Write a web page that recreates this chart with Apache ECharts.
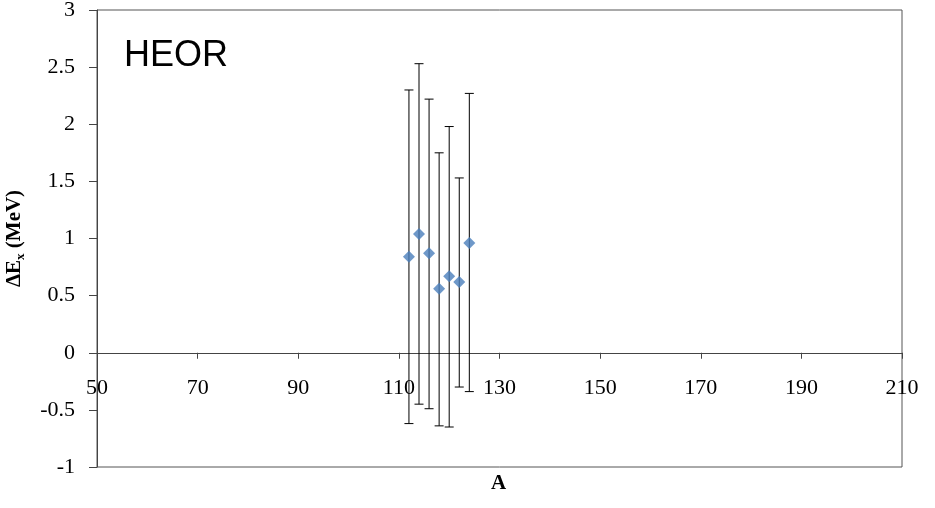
<!DOCTYPE html>
<html>
<head>
<meta charset="utf-8">
<script src="https://cdn.jsdelivr.net/npm/echarts@6/dist/echarts.min.js"></script>
<style>html,body{margin:0;padding:0;background:#fff}#c{width:935px;height:508px}</style>
</head>
<body>
<div id="c"></div>
<script>
const massA   = [112, 114, 116, 118, 120, 122, 124];
const deltaE  = [0.84, 1.04, 0.87, 0.56, 0.67, 0.62, 0.96];
const errHigh = [2.30, 2.53, 2.22, 1.75, 1.98, 1.53, 2.27];
const errLow  = [-0.62, -0.45, -0.49, -0.64, -0.65, -0.30, -0.34];

const chart = echarts.init(document.getElementById('c'), null, {renderer: 'canvas'});
const serif = '"Liberation Serif", "Times New Roman", serif';

const points = massA.map((a, i) => [a, deltaE[i]]);
const bars = massA.map((a, i) => [a, errLow[i], errHigh[i]]);

const gridTop = 10, gridBottom = 41, H = 508;
const yMin = -1, yMax = 3;
const plotH = H - gridTop - gridBottom;
const zeroOffset = -plotH * (0 - yMin) / (yMax - yMin);

chart.setOption({
  animation: false,
  backgroundColor: '#fff',
  grid: {left: 97, top: gridTop, right: 33, bottom: gridBottom, outerBoundsMode: 'none', containLabel: false,
         show: true, borderColor: '#555', borderWidth: 1, backgroundColor: 'transparent'},
  xAxis: {
    type: 'value', min: 50, max: 210, interval: 20,
    position: 'bottom', offset: zeroOffset,
    axisLine: {show: true, onZero: false, lineStyle: {color: '#444', width: 1}},
    axisTick: {show: true, inside: false, length: 6, lineStyle: {color: '#444'}},
    axisLabel: {margin: 24, fontFamily: serif, fontSize: 22, color: '#000'},
    splitLine: {show: false}
  },
  yAxis: {
    type: 'value', min: yMin, max: yMax, interval: 0.5,
    axisLine: {show: true, onZero: false, lineStyle: {color: '#444', width: 1}},
    axisTick: {show: true, inside: false, length: 8, lineStyle: {color: '#444'}},
    axisLabel: {margin: 22, fontFamily: serif, fontSize: 22, color: '#000'},
    splitLine: {show: false},
    name: '{b|ΔE}{s|x}{b| (MeV)}',
    nameLocation: 'middle', nameRotate: 90, nameGap: 70,
    nameTextStyle: {
      rich: {
        b: {fontFamily: serif, fontSize: 21, fontWeight: 'bold', color: '#000', lineHeight: 24},
        s: {fontFamily: serif, fontSize: 13, fontWeight: 'bold', color: '#000', lineHeight: 24, verticalAlign: 'bottom', padding: [8, 0, 0, 0]}
      }
    }
  },
  graphic: [
    {type: 'text', left: 124, top: 38, style: {text: 'HEOR', font: '36px "Liberation Sans", Arial, sans-serif', fill: '#000'}},
    {type: 'text', left: 491, top: 473, style: {text: 'A', font: 'bold 21px "Liberation Serif", serif', fill: '#000'}}
  ],
  series: [
    {
      type: 'custom',
      data: bars,
      z: 2,
      renderItem: function (params, api) {
        const x = api.value(0);
        const lo = api.coord([x, api.value(1)]);
        const hi = api.coord([x, api.value(2)]);
        const cap = 4.5;
        const st = {stroke: '#000', lineWidth: 1};
        return {
          type: 'group',
          children: [
            {type: 'line', shape: {x1: lo[0], y1: lo[1], x2: hi[0], y2: hi[1]}, style: st},
            {type: 'line', shape: {x1: hi[0] - cap, y1: hi[1], x2: hi[0] + cap, y2: hi[1]}, style: st},
            {type: 'line', shape: {x1: lo[0] - cap, y1: lo[1], x2: lo[0] + cap, y2: lo[1]}, style: st}
          ]
        };
      }
    },
    {
      type: 'scatter',
      data: points,
      symbol: 'diamond',
      symbolSize: 12,
      z: 3,
      itemStyle: {color: '#4a7ebb'}
    }
  ]
});
</script>
</body>
</html>
